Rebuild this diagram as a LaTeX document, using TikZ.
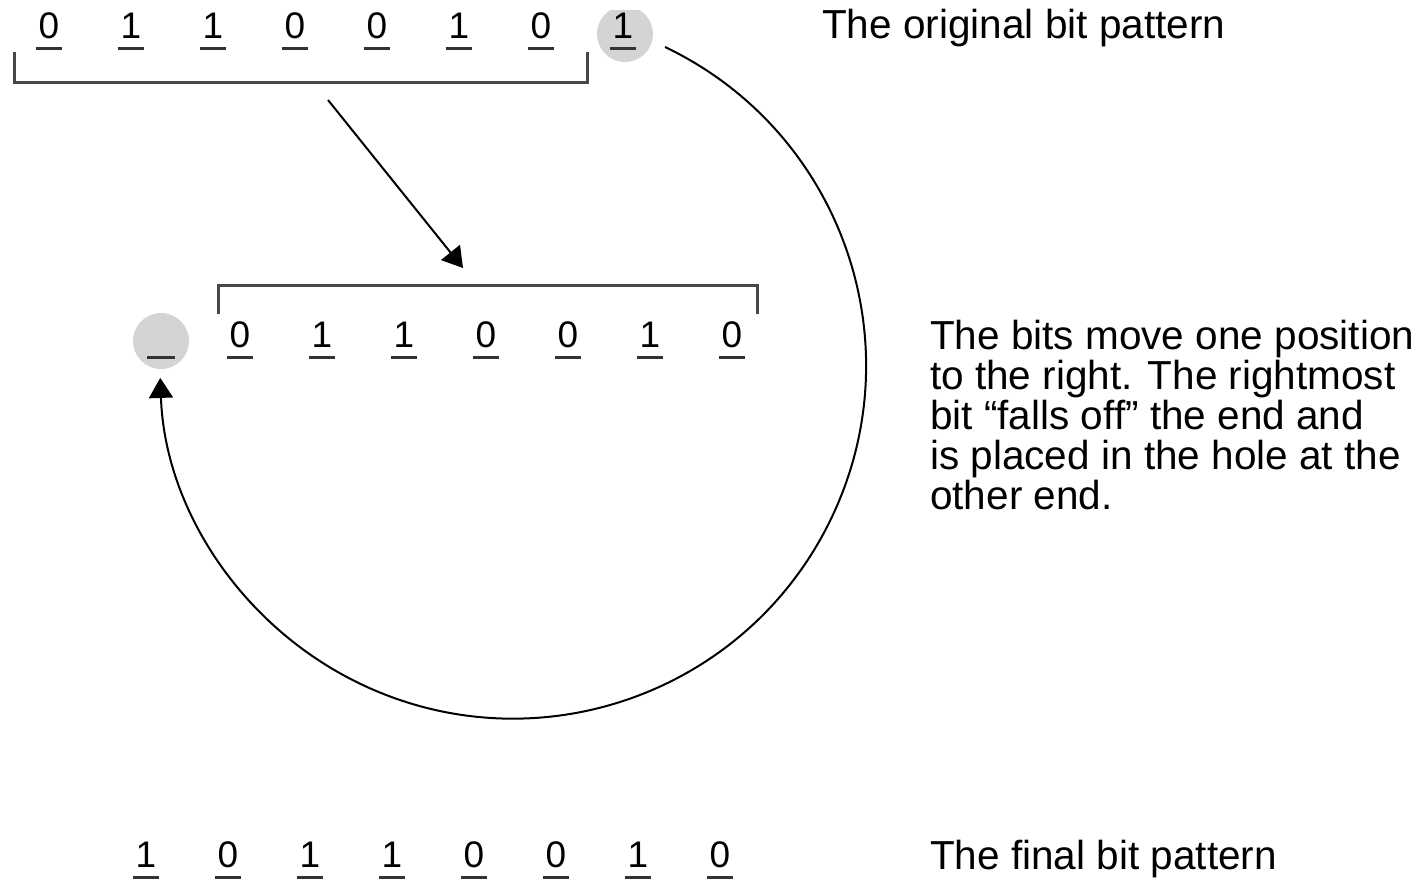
\documentclass[tikz,border=0pt]{standalone}
\usepackage{fontspec}
\setmainfont{Liberation Sans}
\usetikzlibrary{arrows.meta}
\begin{document}
\begin{tikzpicture}[x=1pt,y=-1pt,
  bit/.style={font=\fontsize{37}{40}\selectfont, anchor=base, inner sep=0pt},
  ul/.style={line width=3pt, draw=black!80},
  brk/.style={line width=3pt, draw=black!72},
  hole/.style={circle, fill=black!17, minimum size=56pt, inner sep=0pt},
  lbl/.style={font=\fontsize{40.5}{40}\selectfont, inner sep=0pt, align=left},
  arr/.style={line width=2pt, draw=black, -{Triangle[length=20pt,width=24pt]}}]
\useasboundingbox (0,0) rectangle (1420,880);
% holes
\begin{scope}
  \clip (560,11) rectangle (700,100);
  \node[hole] (hole1) at (625,34) {};
\end{scope}
\node[hole] (hole2) at (161,341) {};
\draw[ul] ([xshift=-14pt,yshift=-16pt]hole2.center) -- ++(28,0);
% rows of bits
\foreach \d [count=\i] in {0,1,1,0,0,1,0,1}{
  \node[bit] (t\i) at ({49+82*(\i-1)},39) {\d};
  \draw[ul] ([xshift=-13pt,yshift=-9.5pt]t\i.base) -- ++(26,0);
}
\foreach \d [count=\i] in {0,1,1,0,0,1,0}{
  \node[bit] (m\i) at ({240+82*(\i-1)},347) {\d};
  \draw[ul] ([xshift=-13pt,yshift=-10pt]m\i.base) -- ++(26,0);
}
\foreach \d [count=\i] in {1,0,1,1,0,0,1,0}{
  \node[bit] (b\i) at ({146+82*(\i-1)},867) {\d};
  \draw[ul] ([xshift=-13pt,yshift=-10pt]b\i.base) -- ++(26,0);
}
% brackets
\draw[brk] (14.5,52) -- (14.5,82.5) -- (587,82.5) -- (587,52);
\draw[brk] (218,314) -- (218,285.5) -- (757,285.5) -- (757,314);
% arrows
\coordinate (a1) at (328,100);
\coordinate (a2) at (463,268);
\draw[arr] (a1) -- (a2);
\coordinate (arcstart) at (665,47);
\draw[arr] (arcstart) arc[start angle=-64.5, end angle=178, radius=353];
% labels
\node[lbl, anchor=base west] (l1) at (822,39) {The original bit pattern};
\node[lbl, anchor=north west] (l2) at (930,319.5) {The bits move one position\\to the right. The rightmost\\bit “falls off” the end and\\is placed in the hole at the\\other end.};
\node[lbl, anchor=base west] (l3) at (930,869) {The final bit pattern};
\end{tikzpicture}
\end{document}
